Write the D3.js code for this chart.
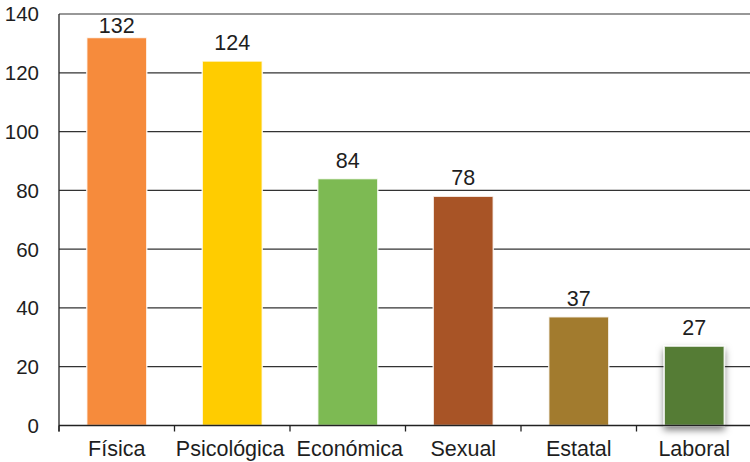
<!DOCTYPE html>
<html><head><meta charset="utf-8">
<script src="https://cdn.jsdelivr.net/npm/d3@7"></script>
<style>body{margin:0;background:#fff}</style>
</head><body>
<svg id="c" width="750" height="462"></svg>
<script>
const categories = ["Física","Psicológica","Económica","Sexual","Estatal","Laboral"];
const values = [132,124,84,78,37,27];
const colors = ["#F68B3C","#FFCC00","#7DBA53","#A85426","#A27B2E","#547B36"];
const yTicks = [0,20,40,60,80,100,120,140];

(function(){
const svg = d3.select("#c");
const mLeft = 59, mRight = 752, mTop = 14, mBottom = 425.5;
const font = "'Liberation Sans', Helvetica, Arial, sans-serif";

const defs = svg.append("defs");
const f = defs.append("filter").attr("id","sh").attr("x","-30%").attr("y","-30%").attr("width","160%").attr("height","160%");
f.append("feDropShadow").attr("dx",0).attr("dy",4).attr("stdDeviation",3.5).attr("flood-color","#000").attr("flood-opacity",0.5);

const x = d3.scaleBand().domain(categories).range([mLeft,mRight]).paddingInner(0.48).paddingOuter(0.24);
const y = d3.scaleLinear().domain([0,140]).range([mBottom,mTop]);

svg.append("g").selectAll("line").data(yTicks.filter(d=>d>0)).join("line")
  .attr("x1",mLeft).attr("x2",750).attr("y1",d=>y(d)).attr("y2",d=>y(d))
  .attr("stroke","#333").attr("stroke-width",1.2);

svg.append("g").selectAll("text").data(yTicks).join("text")
  .attr("x",39).attr("y",d=>y(d)).attr("dy","0.36em").attr("text-anchor","end")
  .attr("font-family",font).attr("font-size",20.5).attr("fill","#1e1e1e").text(d=>d);

svg.append("g").selectAll("rect").data(categories).join("rect")
  .attr("x",d=>x(d)).attr("width",x.bandwidth())
  .attr("y",(d,i)=>y(values[i])).attr("height",(d,i)=>mBottom-y(values[i]))
  .attr("fill",(d,i)=>colors[i]).attr("stroke","#fff").attr("stroke-opacity",0.8).attr("stroke-width",1.5)
  .attr("filter",(d,i)=>i===5?"url(#sh)":null);

svg.append("g").selectAll("text").data(categories).join("text")
  .attr("x",d=>x(d)+x.bandwidth()/2).attr("y",(d,i)=>Math.max(y(values[i])-11, 33))
  .attr("text-anchor","middle").attr("font-family",font).attr("font-size",21.5).attr("fill","#1e1e1e")
  .text((d,i)=>values[i]);

const bounds = [mLeft].concat(categories.map(c=>x(c)+x.bandwidth()+x.step()*x.paddingInner()/2));
svg.append("line").attr("x1",mLeft).attr("x2",mLeft).attr("y1",mTop).attr("y2",mBottom+6).attr("stroke","#222").attr("stroke-width",1.3);
svg.append("line").attr("x1",mLeft).attr("x2",750).attr("y1",mBottom).attr("y2",mBottom).attr("stroke","#222").attr("stroke-width",1.3);
svg.append("g").selectAll("line").data(bounds).join("line")
  .attr("x1",d=>d).attr("x2",d=>d).attr("y1",mBottom).attr("y2",mBottom+6).attr("stroke","#222").attr("stroke-width",1.3);

// category labels, nudged apart where long labels crowd each other
const labels = svg.append("g").selectAll("text").data(categories).join("text")
  .attr("x",d=>x(d)+x.bandwidth()/2).attr("y",456)
  .attr("text-anchor","middle").attr("font-family",font).attr("font-size",21.5).attr("fill","#1e1e1e")
  .text(d=>d);
const nodes = labels.nodes();
for (let i=0;i<nodes.length-1;i++){
  const a = nodes[i].getBBox(), b = nodes[i+1].getBBox();
  const overlap = (a.x + a.width + 12) - b.x;
  if (overlap > 0){
    d3.select(nodes[i]).attr("x", +nodes[i].getAttribute("x") - overlap/2);
    d3.select(nodes[i+1]).attr("x", +nodes[i+1].getAttribute("x") + overlap/2);
  }
}
})();
</script>
</body></html>
